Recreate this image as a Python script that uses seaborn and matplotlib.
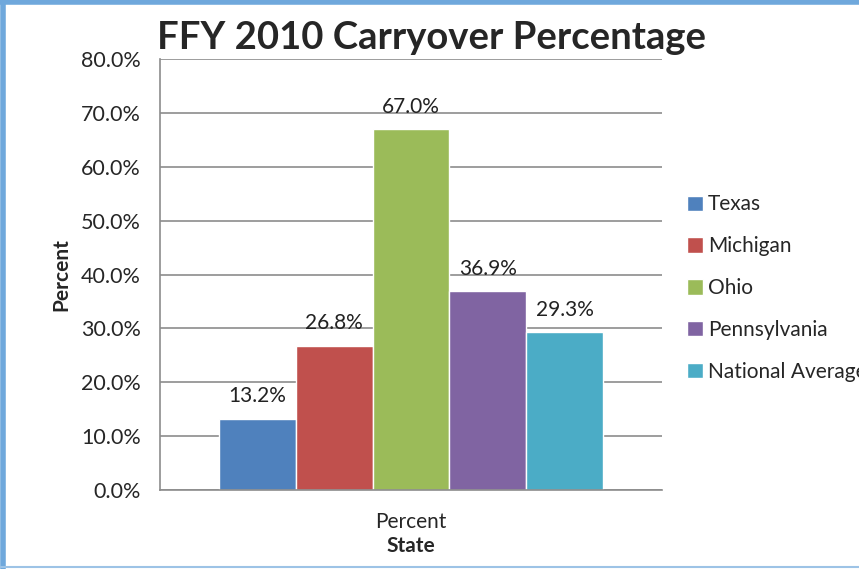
import pandas as pd
import matplotlib.pyplot as plt
import seaborn as sns
from matplotlib.ticker import PercentFormatter, FixedLocator
from matplotlib.lines import Line2D

states = ["Texas", "Michigan", "Ohio", "Pennsylvania", "National Average"]
carryover = [13.2, 26.8, 67.0, 36.9, 29.3]
colors = ["#4F81BD", "#C0504D", "#9BBB59", "#8064A2", "#4BACC6"]

df = pd.DataFrame({"cat": ["Percent"] * len(states), "State": states, "value": carryover})

sns.set_style("white")
plt.rcParams["font.family"] = ["Lato", "DejaVu Sans"]

fig = plt.figure(figsize=(8.59, 5.69), dpi=100)
ax = fig.add_axes([0.1863, 0.1388, 0.5844, 0.7575])

sns.barplot(data=df, x="cat", y="value", hue="State", palette=colors,
            width=0.765, saturation=1, ax=ax, legend=True)

# value labels above bars
for c in ax.containers:
    ax.bar_label(c, labels=[f"{v:.1f}%" for v in c.datavalues], padding=9, fontsize=15, color="#222222")

ax.set_xlim(-0.5, 0.5)
ax.set_ylim(0, 80)
ax.yaxis.set_major_locator(FixedLocator(range(0, 81, 10)))
ax.yaxis.set_major_formatter(PercentFormatter(decimals=1))
ax.grid(axis="y", color="#8C8C8C", linewidth=1.2)
ax.set_axisbelow(True)

ax.set_xticks([-0.5, 0.5])
ax.set_xticklabels(["", ""])
ax.set_xticks([0], minor=True)
ax.set_xticklabels(["Percent"], minor=True, fontsize=15)
ax.tick_params(axis="x", which="major", length=7, width=1.2, color="#8C8C8C", direction="out")
ax.tick_params(axis="x", which="minor", length=0, pad=16)
ax.tick_params(axis="y", length=7, width=1.2, color="#8C8C8C", direction="out", labelsize=15.5, pad=7)

for s in ["top", "right"]:
    ax.spines[s].set_visible(False)
for s in ["left", "bottom"]:
    ax.spines[s].set_color("#8C8C8C")
    ax.spines[s].set_linewidth(1.2)

ax.set_xlabel("State", fontsize=15, fontweight="bold", labelpad=3)
ax.set_ylabel("Percent", fontsize=15, fontweight="bold", labelpad=7)
fig.text(0.502, 0.933, "FFY 2010 Carryover Percentage", ha="center", va="center",
         fontsize=27.5, fontweight="bold")

handles, labels = ax.get_legend_handles_labels()
ax.legend(handles, labels, loc="upper left", bbox_to_anchor=(1.033, 0.705), frameon=False,
          fontsize=15, handlelength=0.75, handleheight=0.75, handletextpad=0.25,
          labelspacing=1.05, borderaxespad=0)

# chart border
fig.add_artist(Line2D([0.003, 0.003], [0, 1], transform=fig.transFigure, color="#6FA8DC", linewidth=4))
fig.add_artist(Line2D([0, 1], [0.997, 0.997], transform=fig.transFigure, color="#6FA8DC", linewidth=4))
fig.add_artist(Line2D([0, 1], [0.003, 0.003], transform=fig.transFigure, color="#9DC3E6", linewidth=1.5))

fig.savefig("out.png", dpi=100)
